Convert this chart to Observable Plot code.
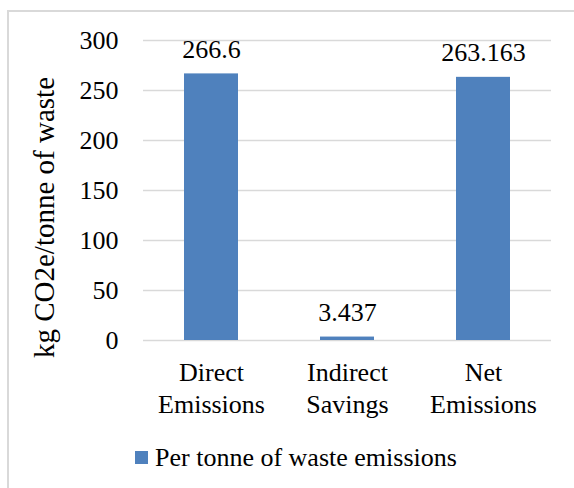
<!DOCTYPE html>
<html>
<head>
<meta charset="utf-8">
<script src="https://cdn.jsdelivr.net/npm/d3@7"></script>
<script src="https://cdn.jsdelivr.net/npm/@observablehq/plot@0.6"></script>
<style>
  html, body { margin: 0; padding: 0; background: #fff; overflow: hidden; }
  #wrap { position: relative; width: 574px; height: 488px; overflow: hidden; font-family: "Liberation Serif", "Times New Roman", serif; }
  #border { position: absolute; left: 7px; top: 10px; width: 700px; height: 700px; border-left: 2px solid #d9d9d9; border-top: 2px solid #d9d9d9; box-sizing: border-box; }
  #chart { position: absolute; left: 0; top: 0; }
  #legend { position: absolute; left: 135px; top: 445px; height: 26px; line-height: 26px; font-size: 26px; color: #000; white-space: nowrap; }
  #legend .sw { position: absolute; left: 0; top: 6px; width: 13px; height: 13px; }
  #legend .tx { position: absolute; left: 20px; top: 0; }
</style>
</head>
<body>
<div id="wrap">
  <div id="border"></div>
  <div id="chart"></div>
  <div id="legend"><span class="sw"></span><span class="tx"></span></div>
</div>
<script>
const categories = ["Direct Emissions", "Indirect Savings", "Net Emissions"];
const values = [266.6, 3.437, 263.163];
const valueLabels = ["266.6", "3.437", "263.163"];
const yTicks = [0, 50, 100, 150, 200, 250, 300];
const seriesName = "Per tonne of waste emissions";
const yTitle = "kg CO2e/tonne of waste";
const barColor = "#4f81bd";

const data = categories.map((c, i) => ({category: c, value: values[i], label: valueLabels[i]}));

const chart = Plot.plot({
  width: 574,
  height: 430,
  marginTop: 40,
  marginBottom: 90,
  marginLeft: 143,
  marginRight: 23,
  style: {fontFamily: "'Liberation Serif', 'Times New Roman', serif", fontSize: "26px", color: "#000", background: "transparent"},
  x: {domain: categories, paddingInner: 0.6, paddingOuter: 0.3, axis: null},
  y: {domain: [0, 300], axis: null},
  marks: [
    Plot.gridY(yTicks, {stroke: "#d9d9d9", strokeOpacity: 1, strokeWidth: 1.5}),
    Plot.barY(data, {x: "category", y: "value", fill: barColor}),
    Plot.axisY(yTicks, {tickSize: 0, tickPadding: 25, fontSize: 26, label: null}),
    Plot.axisX({tickSize: 0, tickPadding: 17, fontSize: 26, lineHeight: 1.25, tickFormat: d => d.replace(" ", "\n"), label: null}),
    Plot.text(data, {x: "category", y: "value", text: "label", lineAnchor: "bottom", dy: -16, fontSize: 26}),
    Plot.text([yTitle], {frameAnchor: "left", text: d => d, rotate: -90, dx: 44.5 - 143, dy: 217 - 190, fontSize: 29, textAnchor: "middle", lineAnchor: "middle"})
  ]
});
document.getElementById("chart").appendChild(chart);
document.querySelector("#legend .sw").style.background = barColor;
document.querySelector("#legend .tx").textContent = seriesName;
</script>
</body>
</html>
